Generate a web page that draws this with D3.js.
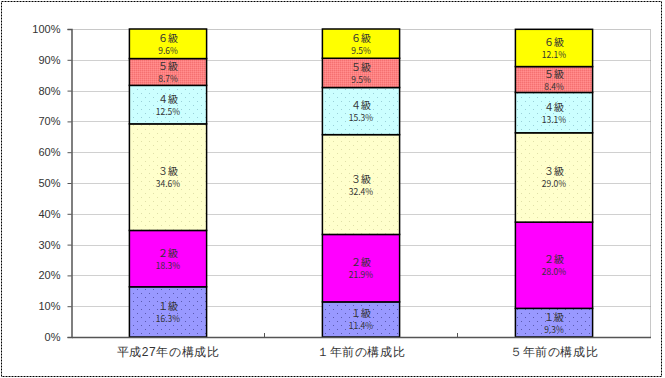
<!DOCTYPE html>
<html>
<head>
<meta charset="utf-8">
<script src="https://cdn.jsdelivr.net/npm/d3@7"></script>
<style>
  body { margin: 0; background: #fff; }
  svg { display: block; font-family: "Noto Sans CJK JP", "Noto Sans", sans-serif; }
</style>
</head>
<body>
<div id="container"></div>
<script>
// data
let categories = ["平成27年の構成比", "１年前の構成比", "５年前の構成比"];
let grades = ["１級", "２級", "３級", "４級", "５級", "６級"];
let grade1 = [16.3, 11.4, 9.3];
let grade2 = [18.3, 21.9, 28.0];
let grade3 = [34.6, 32.4, 29.0];
let grade4 = [12.5, 15.3, 13.1];
let grade5 = [8.7, 9.5, 8.4];
let grade6 = [9.6, 9.5, 12.1];
let yTicks = [0, 10, 20, 30, 40, 50, 60, 70, 80, 90, 100];

const w = 665;
const h = 378;
const padL = 71.5, padR = 650.5, padT = 29, padB = 337;

let viz = d3.select("#container")
  .append("svg")
    .attr("width", w)
    .attr("height", h)
;

// fills (some with small dot patterns like the original)
let defs = viz.append("defs");
function dots(id, bg, dot, size){
  let p = defs.append("pattern").attr("id", id)
    .attr("width", size).attr("height", size)
    .attr("patternUnits", "userSpaceOnUse");
  p.append("rect").attr("width", size).attr("height", size).attr("fill", bg);
  p.append("rect").attr("x", 1).attr("y", 1).attr("width", 1).attr("height", 1).attr("fill", dot);
  p.append("rect").attr("x", size / 2 + 1).attr("y", size / 2 + 1).attr("width", 1).attr("height", 1).attr("fill", dot);
}
dots("p1", "#9999ff", "#5a5ab0", 8);
dots("p3", "#ffffcc", "#e0e0a8", 8);
dots("p4", "#ccffff", "#9ad0d8", 8);
let chk = defs.append("pattern").attr("id", "p5")
  .attr("width", 2).attr("height", 2).attr("patternUnits", "userSpaceOnUse");
chk.append("rect").attr("width", 2).attr("height", 2).attr("fill", "#ff8080");
chk.append("rect").attr("width", 1).attr("height", 1).attr("fill", "#f27272");
chk.append("rect").attr("x", 1).attr("y", 1).attr("width", 1).attr("height", 1).attr("fill", "#ff9090");

let fills = ["url(#p1)", "#ff00ff", "url(#p3)", "url(#p4)", "url(#p5)", "#ffff00"];

// outer dashed border
viz.append("rect")
  .attr("x", 1.5).attr("y", 1.5)
  .attr("width", 660).attr("height", 375)
  .attr("fill", "none")
  .attr("stroke", "#000")
  .attr("stroke-dasharray", "2,1")
;

let xScale = d3.scaleBand().domain(categories).range([padL, padR]).paddingInner(0.6).paddingOuter(0.3);
let yScale = d3.scaleLinear().domain([0, 100]).range([padB, padT]);

// grid lines
viz.append("g").selectAll("line").data(yTicks.slice(1, -1)).enter()
  .append("line")
    .attr("x1", padL).attr("x2", padR)
    .attr("y1", d => Math.round(yScale(d)) + 0.5)
    .attr("y2", d => Math.round(yScale(d)) + 0.5)
    .attr("stroke", "#a0a0a0")
    .attr("stroke-dasharray", "1,1")
;

// plot border top / right
viz.append("path")
  .attr("d", `M${padL},${padT + 0.5}H${padR}V${padB}`)
  .attr("fill", "none")
  .attr("stroke", "#909090")
  .attr("stroke-dasharray", "1,1")
;

// stacked data
let series = [grade1, grade2, grade3, grade4, grade5, grade6];
let rows = categories.map((c, i) => {
  let r = { cat: c };
  grades.forEach((g, j) => r[g] = series[j][i]);
  return r;
});
let stack = d3.stack().keys(grades)(rows);

let layers = viz.append("g").selectAll("g").data(stack).enter()
  .append("g")
    .attr("fill", (d, i) => fills[i])
;

layers.selectAll("rect").data(d => d).enter()
  .append("rect")
    .attr("x", d => xScale(d.data.cat))
    .attr("y", d => yScale(d[1]))
    .attr("width", xScale.bandwidth())
    .attr("height", d => yScale(d[0]) - yScale(d[1]))
    .attr("stroke", "#000")
    .attr("stroke-width", 1.5)
;

// labels inside segments
stack.forEach((layer, i) => {
  let g = viz.append("g");
  layer.forEach(d => {
    let cx = xScale(d.data.cat) + xScale.bandwidth() / 2;
    let cy = (yScale(d[0]) + yScale(d[1])) / 2;
    g.append("text")
      .attr("x", cx).attr("y", cy - 2)
      .attr("text-anchor", "middle")
      .attr("font-size", 10)
      .attr("fill", "#333")
      .text(layer.key);
    g.append("text")
      .attr("x", cx).attr("y", cy + 10)
      .attr("text-anchor", "middle")
      .attr("font-size", 8.5)
      .attr("fill", "#333")
      .text(d.data[layer.key].toFixed(1) + "%");
  });
});

// y axis
let yAxis = d3.axisLeft(yScale).tickValues(yTicks).tickFormat(d => d + "%").tickSize(4);
let yg = viz.append("g").attr("transform", `translate(${padL},0)`).call(yAxis);
yg.select(".domain").attr("stroke", "#555").attr("stroke-width", 1.5);
yg.selectAll(".tick line").attr("stroke", "#555");
yg.selectAll("text").attr("font-size", 11).attr("fill", "#333").attr("x", -11)
  .attr("font-family", "Liberation Sans, Arial, sans-serif");

// x axis
let xAxis = d3.axisBottom(xScale).tickSize(0).tickPadding(10);
let xg = viz.append("g").attr("transform", `translate(0,${padB})`).call(xAxis);
xg.select(".domain").attr("stroke", "#555").attr("stroke-width", 1.5);
xg.selectAll("text").attr("font-size", 12).attr("fill", "#333").attr("letter-spacing", 0.6);

// small ticks between categories
viz.append("g").selectAll("line").data([1, 2]).enter()
  .append("line")
    .attr("x1", d => padL + d * (padR - padL) / 3)
    .attr("x2", d => padL + d * (padR - padL) / 3)
    .attr("y1", padB).attr("y2", padB - 4)
    .attr("stroke", "#555")
;
</script>
</body>
</html>
